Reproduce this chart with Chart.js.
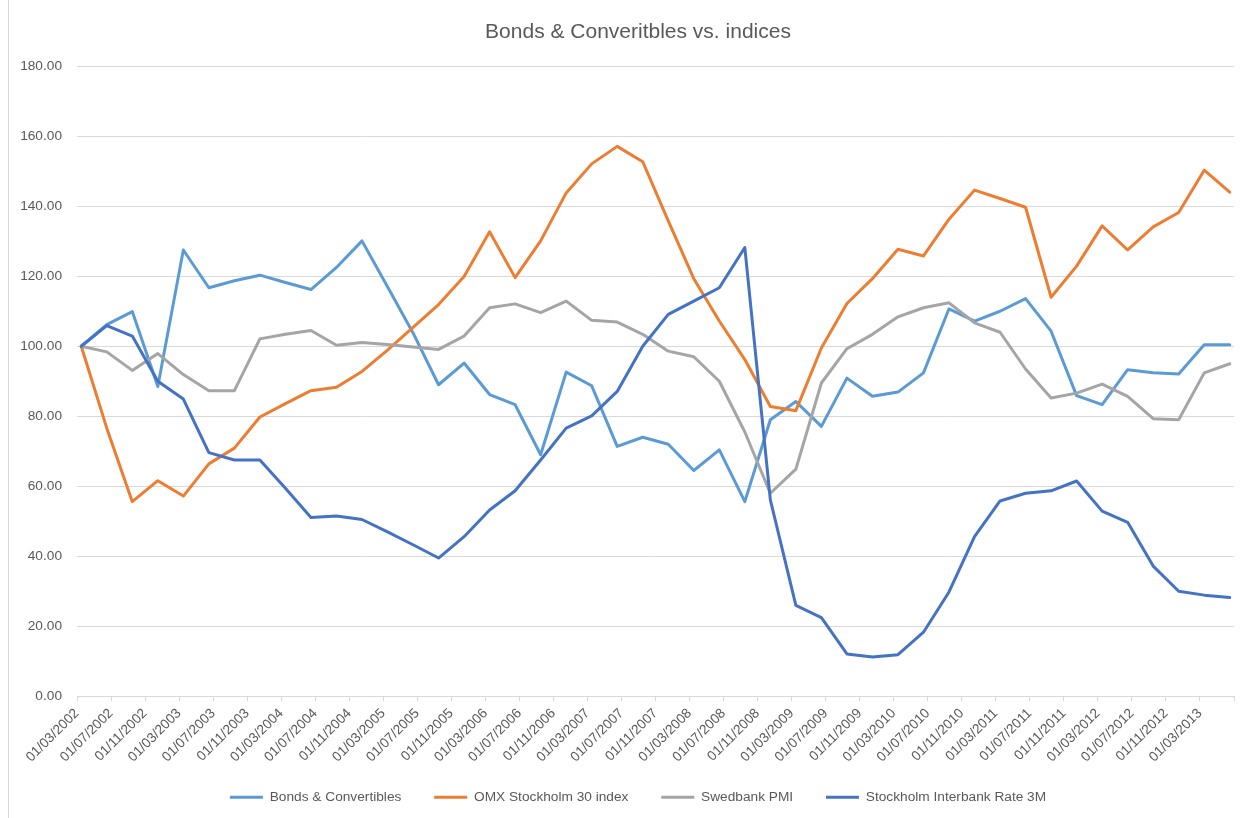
<!DOCTYPE html>
<html>
<head>
<meta charset="utf-8">
<title>Bonds & Converitbles vs. indices</title>
<script src="https://cdn.jsdelivr.net/npm/chart.js@4.4.1/dist/chart.umd.min.js"></script>
<style>
  html, body { margin: 0; padding: 0; background: #ffffff; }
  #wrap { position: relative; width: 1259px; height: 818px; }
  #frame { position: absolute; left: 8px; top: 0; width: 1px; height: 818px; background: #d9d9d9; }
</style>
</head>
<body>
<div id="wrap">
  <canvas id="chart" width="1259" height="818"></canvas>
  <div id="frame"></div>
</div>
<script>
// quarterly observations (MM/YYYY)
const quarters = [
  '03/2002', '06/2002', '09/2002', '12/2002',
  '03/2003', '06/2003', '09/2003', '12/2003',
  '03/2004', '06/2004', '09/2004', '12/2004',
  '03/2005', '06/2005', '09/2005', '12/2005',
  '03/2006', '06/2006', '09/2006', '12/2006',
  '03/2007', '06/2007', '09/2007', '12/2007',
  '03/2008', '06/2008', '09/2008', '12/2008',
  '03/2009', '06/2009', '09/2009', '12/2009',
  '03/2010', '06/2010', '09/2010', '12/2010',
  '03/2011', '06/2011', '09/2011', '12/2011',
  '03/2012', '06/2012', '09/2012', '12/2012',
  '03/2013', '06/2013'
];

// date axis labels, one every 4 months
const tickLabels = [
  '01/03/2002', '01/07/2002', '01/11/2002',
  '01/03/2003', '01/07/2003', '01/11/2003',
  '01/03/2004', '01/07/2004', '01/11/2004',
  '01/03/2005', '01/07/2005', '01/11/2005',
  '01/03/2006', '01/07/2006', '01/11/2006',
  '01/03/2007', '01/07/2007', '01/11/2007',
  '01/03/2008', '01/07/2008', '01/11/2008',
  '01/03/2009', '01/07/2009', '01/11/2009',
  '01/03/2010', '01/07/2010', '01/11/2010',
  '01/03/2011', '01/07/2011', '01/11/2011',
  '01/03/2012', '01/07/2012', '01/11/2012',
  '01/03/2013'
];

const bonds = [
  100.0, 106.2, 109.9, 88.5, 127.5, 116.7, 118.7, 120.3, 118.2, 116.2,
  122.5, 130.1, 117.0, 103.8, 89.0, 95.2, 86.2, 83.3, 69.0, 92.6,
  88.7, 71.4, 74.0, 72.0, 64.5, 70.4, 55.6, 79.0, 84.2, 77.1,
  90.9, 85.7, 86.9, 92.4, 110.7, 107.2, 110.0, 113.6, 104.3, 85.9,
  83.3, 93.3, 92.4, 92.1, 100.4, 100.4
];

const omx = [
  100.0, 76.6, 55.6, 61.6, 57.2, 66.4, 70.9, 79.8, 83.6, 87.3,
  88.3, 92.8, 98.9, 105.4, 111.9, 119.9, 132.7, 119.6, 130.1, 143.8,
  152.1, 157.1, 152.7, 135.8, 119.3, 107.2, 96.2, 82.8, 81.6, 99.5,
  112.2, 119.3, 127.7, 125.8, 136.3, 144.6, 142.2, 139.7, 114.0, 122.9,
  134.4, 127.5, 134.1, 138.2, 150.3, 144.0
];

const pmi = [
  100.0, 98.4, 93.1, 97.9, 91.9, 87.3, 87.3, 102.1, 103.4, 104.5,
  100.3, 101.1, 100.5, 99.8, 99.1, 102.9, 111.0, 112.1, 109.6, 112.9,
  107.4, 106.9, 103.4, 98.6, 97.0, 90.0, 75.5, 58.0, 64.9, 89.5,
  99.3, 103.4, 108.4, 111.0, 112.4, 106.7, 104.0, 93.5, 85.2, 86.6,
  89.2, 85.7, 79.3, 79.0, 92.4, 95.0
];

const stibor = [
  100.0, 105.9, 102.9, 90.0, 84.9, 69.6, 67.5, 67.5, 59.4, 51.1,
  51.5, 50.5, 47.0, 43.3, 39.5, 45.6, 53.2, 58.7, 67.5, 76.6,
  80.1, 87.1, 100.0, 109.1, 112.9, 116.7, 128.2, 56.1, 26.0, 22.5,
  12.1, 11.2, 11.9, 18.3, 29.8, 45.6, 55.8, 58.0, 58.7, 61.5,
  52.9, 49.7, 37.2, 30.0, 28.9, 28.2
];

const yTicks = [0, 20, 40, 60, 80, 100, 120, 140, 160, 180];

// month offset from 03/2002, centred in its month slot (Excel date axis)
function monthPos(q) {
  const [mm, yyyy] = q.split('/').map(Number);
  return (yyyy - 2002) * 12 + (mm - 3) + 0.5;
}
function toPoints(values) {
  return quarters.map((q, i) => ({ x: monthPos(q), y: values[i] }));
}

const textColor = '#595959';
const gridColor = '#d9d9d9';
const fontFamily = "'Liberation Sans', Arial, sans-serif";

const ctx = document.getElementById('chart').getContext('2d');
new Chart(ctx, {
  type: 'line',
  data: {
    datasets: [
      { label: 'Bonds & Convertibles', data: toPoints(bonds), borderColor: '#5b9bd5', backgroundColor: '#5b9bd5', borderWidth: 3, order: 4 },
      { label: 'OMX Stockholm 30 index', data: toPoints(omx), borderColor: '#ed7d31', backgroundColor: '#ed7d31', borderWidth: 3, order: 3 },
      { label: 'Swedbank PMI', data: toPoints(pmi), borderColor: '#a5a5a5', backgroundColor: '#a5a5a5', borderWidth: 3, order: 2 },
      { label: 'Stockholm Interbank Rate 3M', data: toPoints(stibor), borderColor: '#4472c4', backgroundColor: '#4472c4', borderWidth: 3, order: 1 }
    ]
  },
  options: {
    responsive: false,
    animation: false,
    devicePixelRatio: 1,
    layout: { padding: { left: 17, right: 0, top: 0, bottom: 4 } },
    elements: {
      point: { radius: 0, hoverRadius: 0 },
      line: { borderWidth: 3, tension: 0, borderJoinStyle: 'round', borderCapStyle: 'round', fill: false }
    },
    plugins: {
      title: {
        display: true,
        text: 'Bonds & Converitbles vs. indices',
        color: textColor,
        font: { family: fontFamily, size: 21, weight: 'normal' },
        padding: { top: 20, bottom: 21 }
      },
      legend: {
        position: 'bottom',
        labels: {
          color: textColor,
          font: { family: fontFamily, size: 13.7 },
          usePointStyle: true,
          pointStyle: 'line',
          pointStyleWidth: 33,
          padding: 10,
          sort: (a, b) => a.datasetIndex - b.datasetIndex,
          generateLabels: (chart) => {
            const items = Chart.defaults.plugins.legend.labels.generateLabels(chart);
            items.forEach((it) => {
              it.pointStyle = 'line';
              it.lineWidth = 3;
              it.lineCap = 'butt';
              if (it.datasetIndex < 3) it.text = it.text + '      ';
            });
            return items;
          }
        }
      },
      tooltip: { enabled: false }
    },
    scales: {
      x: {
        type: 'linear',
        min: 0,
        max: tickLabels.length * 4,
        ticks: {
          stepSize: 4,
          autoSkip: false,
          minRotation: 45,
          maxRotation: 45,
          color: textColor,
          font: { family: fontFamily, size: 13.7 },
          padding: 4,
          callback: (v) => tickLabels[v / 4] ?? ''
        },
        grid: { drawOnChartArea: false, color: gridColor, tickLength: 5 },
        border: { color: gridColor },
        afterFit: (s) => { s.height = 84; }
      },
      y: {
        min: 0,
        max: 180,
        afterBuildTicks: (s) => { s.ticks = yTicks.map(v => ({ value: v })); },
        ticks: {
          color: textColor,
          font: { family: fontFamily, size: 13.7 },
          padding: 15,
          callback: (v) => v.toFixed(2)
        },
        grid: { color: gridColor, drawTicks: false },
        border: { display: false },
        afterFit: (s) => { s.width = 60; }
      },
      yRight: {
        position: 'right',
        grid: { display: false },
        ticks: { display: false },
        border: { display: false },
        afterFit: (s) => { s.width = 25; }
      }
    }
  }
});
</script>
</body>
</html>
